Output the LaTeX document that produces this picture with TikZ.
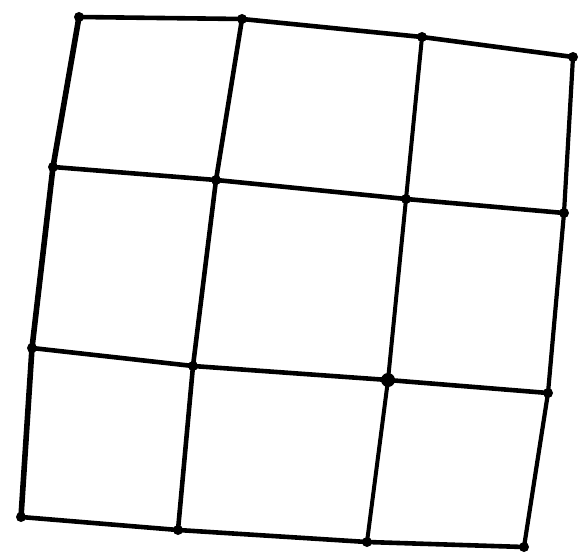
\documentclass[tikz,border=0pt]{standalone}
\begin{document}
\begin{tikzpicture}[x=1pt,y=-1pt,
  dot/.style={circle,fill=black,inner sep=0pt,minimum size=10pt},
  bigdot/.style={circle,fill=black,inner sep=0pt,minimum size=14pt},
  edge/.style={line width=4.6pt,line cap=round,line join=round}]
\useasboundingbox (0,0) rectangle (581,556);
% row 0
\node[dot] (a0) at (79,17) {};
\node[dot] (a1) at (242,19) {};
\node[dot] (a2) at (422,37) {};
\node[dot] (a3) at (573,57) {};
% row 1
\node[dot] (b0) at (53,167) {};
\node[dot] (b1) at (216,180) {};
\node[dot] (b2) at (406,199) {};
\node[dot] (b3) at (564,213) {};
% row 2
\node[dot] (c0) at (32,348) {};
\node[dot] (c1) at (193,366) {};
\node[bigdot] (c2) at (388,380) {};
\node[dot] (c3) at (548,393) {};
% row 3
\node[dot] (d0) at (21,517) {};
\node[dot] (d1) at (178,530) {};
\node[dot] (d2) at (367,542) {};
\node[dot] (d3) at (524,547) {};
% horizontal
\draw[edge] (a0.center) -- (a1.center) -- (a2.center) -- (a3.center);
\draw[edge] (b0.center) -- (b1.center) -- (b2.center) -- (b3.center);
\draw[edge] (c0.center) -- (c1.center) -- (c2.center) -- (c3.center);
\draw[edge] (d0.center) -- (d1.center) -- (d2.center) -- (d3.center);
% vertical
\draw[edge,line width=5.6pt] (a0.center) -- (b0.center) -- (c0.center) -- (d0.center);
\draw[edge] (a1.center) -- (b1.center) -- (c1.center) -- (d1.center);
\draw[edge,line width=4pt] (a2.center) -- (b2.center) -- (c2.center) -- (d2.center);
\draw[edge,line width=4.2pt] (a3.center) -- (b3.center) -- (c3.center) -- (d3.center);
\end{tikzpicture}
\end{document}
